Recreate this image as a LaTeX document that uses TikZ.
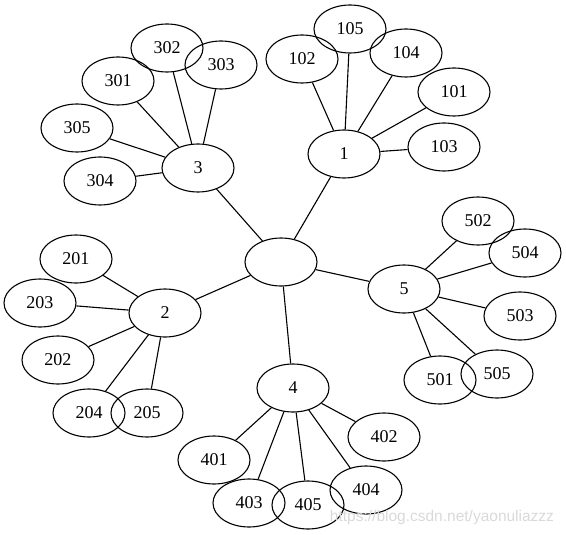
\documentclass[tikz,border=0pt]{standalone}
\usepackage{fontspec}
\setmainfont{Liberation Serif}
\newfontfamily\wmfont{Liberation Sans}
\usetikzlibrary{shapes.geometric}
\tikzset{
  nd/.style={draw, ellipse, line width=1.1pt, minimum width=72pt, minimum height=48pt, inner sep=0pt, font=\fontsize{18}{20}\selectfont},
  ed/.style={line width=1.1pt}
}
\begin{document}
\begin{tikzpicture}[x=1pt,y=-1pt]
\useasboundingbox (0,0) rectangle (566,535);
\node[nd] (c) at (281,262) {};
\node[nd] (n1) at (344,154) {1};
\node[nd] (n105) at (350,29) {105};
\node[nd] (n102) at (302,59) {102};
\node[nd] (n104) at (406,53) {104};
\node[nd] (n101) at (454,92) {101};
\node[nd] (n103) at (444,147) {103};
\node[nd] (n3) at (198,168) {3};
\node[nd] (n302) at (167,48) {302};
\node[nd] (n303) at (221,65) {303};
\node[nd] (n301) at (118,81) {301};
\node[nd] (n305) at (77,128) {305};
\node[nd] (n304) at (100,181) {304};
\node[nd] (n2) at (165,313) {2};
\node[nd] (n201) at (76,259) {201};
\node[nd] (n203) at (40,303) {203};
\node[nd] (n202) at (58,360) {202};
\node[nd] (n204) at (89,413) {204};
\node[nd] (n205) at (147,413) {205};
\node[nd] (n4) at (293,388) {4};
\node[nd] (n401) at (214,460) {401};
\node[nd] (n402) at (384,437) {402};
\node[nd] (n403) at (249,503) {403};
\node[nd] (n405) at (308,505) {405};
\node[nd] (n404) at (366,490) {404};
\node[nd] (n5) at (404,289) {5};
\node[nd] (n502) at (478,221) {502};
\node[nd] (n504) at (525,253) {504};
\node[nd] (n503) at (520,316) {503};
\node[nd] (n501) at (440,380) {501};
\node[nd] (n505) at (497,374) {505};
\foreach \a/\b in {c/n1,c/n2,c/n3,c/n4,c/n5,
  n1/n101,n1/n102,n1/n103,n1/n104,n1/n105,
  n2/n201,n2/n202,n2/n203,n2/n204,n2/n205,
  n3/n301,n3/n302,n3/n303,n3/n304,n3/n305,
  n4/n401,n4/n402,n4/n403,n4/n404,n4/n405,
  n5/n501,n5/n502,n5/n503,n5/n504,n5/n505}
  \draw[ed] (\a) -- (\b);
\node[text=gray!30, font=\wmfont\fontsize{15.5}{17}\selectfont, inner sep=0pt] (wm) at (442,517) {https://blog.csdn.net/yaonuliazzz};
\end{tikzpicture}
\end{document}
